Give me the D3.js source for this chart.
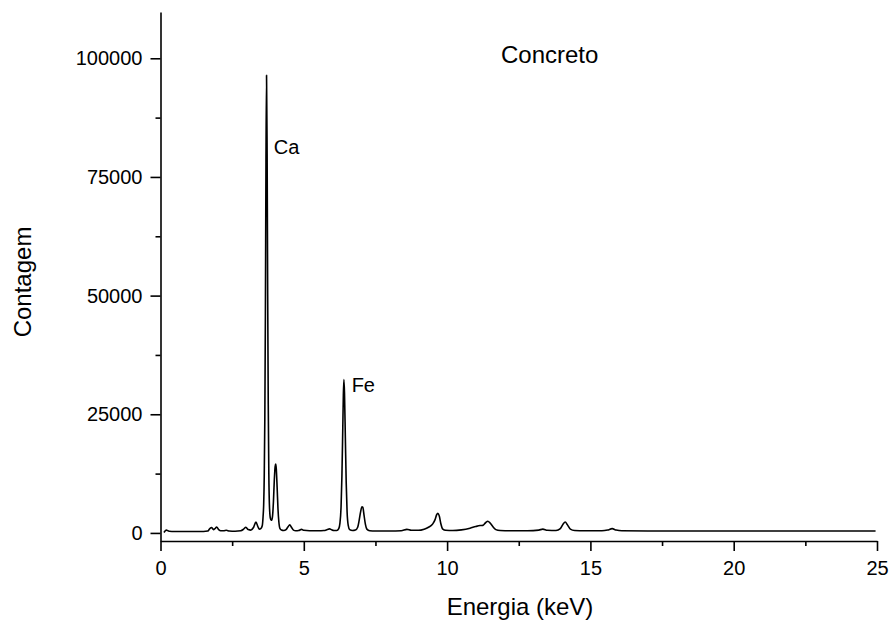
<!DOCTYPE html>
<html>
<head>
<meta charset="utf-8">
<script src="https://cdn.jsdelivr.net/npm/d3@7"></script>
<style>
  body { margin: 0; background: #fff; }
  svg text { font-family: "Liberation Sans", Arial, sans-serif; fill: #000; }
</style>
</head>
<body>
<script>
// energy (keV) and counts
const energy = [0.12, 0.2, 0.3, 0.5, 1.0, 1.5, 1.65, 1.72, 1.78, 1.85, 1.9, 1.96, 2.03, 2.1, 2.2, 2.3, 2.4, 2.6, 2.8, 2.9, 2.98,
  3.06, 3.15, 3.25, 3.33, 3.4, 3.45, 3.5, 3.55, 3.58, 3.6, 3.62, 3.64, 3.66, 3.68, 3.7, 3.72, 3.74, 3.76, 3.78, 3.8,
  3.83, 3.86, 3.88, 3.91, 3.94, 3.97, 4.0, 4.02, 4.04, 4.07, 4.1, 4.13, 4.17, 4.22, 4.3, 4.38, 4.45, 4.51, 4.57, 4.64,
  4.72, 4.82, 4.92, 5.0, 5.2, 5.5, 5.7, 5.82, 5.9, 5.97, 6.05, 6.15, 6.22, 6.26, 6.3, 6.33, 6.36, 6.38, 6.4, 6.42,
  6.45, 6.48, 6.51, 6.55, 6.6, 6.7, 6.8, 6.88, 6.93, 6.98, 7.03, 7.06, 7.1, 7.15, 7.2, 7.3, 7.5, 8.0, 8.4, 8.6, 8.75,
  9.0, 9.2, 9.35, 9.5, 9.58, 9.64, 9.68, 9.73, 9.78, 9.85, 9.95, 10.2, 10.5, 10.8, 11.0, 11.15, 11.25, 11.35, 11.42,
  11.5, 11.6, 11.7, 11.85, 12.2, 12.8, 13.2, 13.34, 13.5, 13.8, 13.95, 14.05, 14.12, 14.2, 14.3, 14.45, 14.8, 15.4,
  15.6, 15.76, 15.9, 16.1, 17, 18, 19, 20, 21, 22, 23, 24, 24.95];
const counts = [100, 600, 350, 300, 300, 300, 400, 900, 1150, 700, 900, 1250, 700, 450, 450, 550, 400, 350, 450, 800, 1200,
  700, 600, 1200, 2300, 1300, 800, 900, 1500, 3500, 6000, 12000, 24000, 46000, 78000, 96400, 80000, 50000, 27000, 12500, 6000,
  3200, 2700, 2700, 3600, 6500, 11000, 14000, 14500, 13500, 9500, 5000, 2300, 900, 600, 500, 700, 1300, 1700, 1200, 600,
  450, 500, 750, 550, 450, 450, 500, 700, 850, 650, 500, 500, 900, 2000, 5500, 12000, 22000, 29000, 32300, 29500,
  20000, 10500, 4500, 1600, 700, 500, 600, 1200, 2600, 4400, 5500, 5400, 3800, 1800, 800, 450, 400, 400, 450, 750, 550,
  550, 800, 1200, 1900, 2800, 3900, 4150, 3500, 2000, 800, 550, 500, 650, 1000, 1350, 1550, 1600, 2200, 2450,
  2100, 1300, 700, 500, 450, 450, 600, 800, 550, 500, 900, 1900, 2300, 1700, 800, 500, 450, 450,
  600, 900, 600, 450, 420, 420, 420, 420, 420, 420, 420, 420, 420];

const xTicks = [0, 5, 10, 15, 20, 25];
const xMinor = [2.5, 7.5, 12.5, 17.5, 22.5];
const yTicks = [0, 25000, 50000, 75000, 100000];
const yMinor = [12500, 37500, 62500, 87500];
const peakLabels = [{ name: 'Ca', e: 3.95, c: 80000 }, { name: 'Fe', e: 6.67, c: 30000 }];

const width = 893, height = 625;
const svg = d3.select('body').append('svg')
  .attr('width', width)
  .attr('height', height);

const x = d3.scaleLinear().domain([0, 25]).range([160.5, 877]);
const y = d3.scaleLinear().domain([-1700, 109750]).range([541, 12]);

const points = energy.map((e, i) => [e, counts[i]]);

// spectrum
svg.append('path')
  .datum(points)
  .attr('fill', 'none')
  .attr('stroke', '#000')
  .attr('stroke-width', 1.6)
  .attr('stroke-linejoin', 'round')
  .attr('d', d3.line().x(d => x(d[0])).y(d => y(d[1])).curve(d3.curveMonotoneX));

// axes
svg.append('g')
  .attr('transform', `translate(0,${y.range()[0]})`)
  .call(d3.axisBottom(x).tickValues(xTicks).tickSize(10).tickSizeOuter(0).tickPadding(10));
svg.append('g')
  .attr('transform', `translate(0,${y.range()[0]})`)
  .call(d3.axisBottom(x).tickValues(xMinor).tickSize(5).tickFormat(''))
  .call(g => g.select('.domain').remove());

svg.append('g')
  .attr('transform', `translate(${x.range()[0]},0)`)
  .call(d3.axisLeft(y).tickValues(yTicks).tickSize(10).tickSizeOuter(0).tickPadding(8).tickFormat(d3.format('d')));
svg.append('g')
  .attr('transform', `translate(${x.range()[0]},0)`)
  .call(d3.axisLeft(y).tickValues(yMinor).tickSize(5).tickFormat(''))
  .call(g => g.select('.domain').remove());

svg.selectAll('.domain').attr('stroke-width', 1.6);
svg.selectAll('.tick line').attr('stroke-width', 1.6);
svg.selectAll('.tick text').attr('font-size', 20).attr('font-family', '"Liberation Sans", Arial, sans-serif');

// axis titles
svg.append('text')
  .attr('x', 520)
  .attr('y', 615)
  .attr('text-anchor', 'middle')
  .attr('font-size', 24)
  .text('Energia (keV)');

svg.append('text')
  .attr('transform', 'translate(31,282) rotate(-90)')
  .attr('text-anchor', 'middle')
  .attr('font-size', 24)
  .text('Contagem');

svg.append('text')
  .attr('x', 501)
  .attr('y', 63)
  .attr('font-size', 24)
  .text('Concreto');

svg.selectAll('.peak-label')
  .data(peakLabels)
  .enter().append('text')
  .attr('class', 'peak-label')
  .attr('x', d => x(d.e))
  .attr('y', d => y(d.c) + 1)
  .attr('font-size', 20)
  .text(d => d.name);
</script>
</body>
</html>
